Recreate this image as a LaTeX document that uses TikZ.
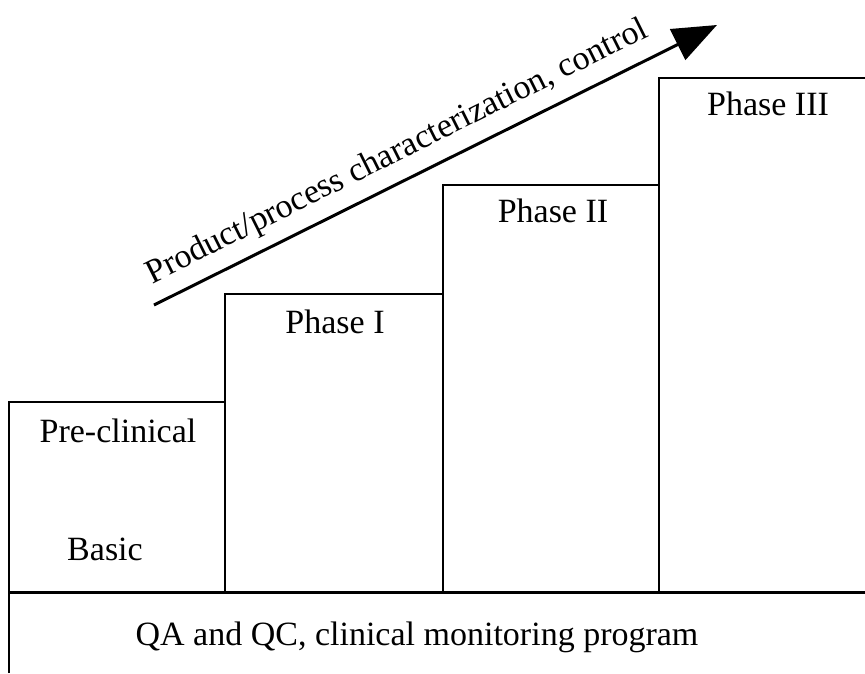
\documentclass[tikz,border=0pt]{standalone}
\usepackage{fontspec}
\setmainfont{Liberation Serif}
\usetikzlibrary{arrows.meta}
\begin{document}
\begin{tikzpicture}[x=1pt,y=-1pt,
  stepline/.style={line width=1.6pt},
  baseline rule/.style={line width=3pt},
  lbl/.style={font=\fontsize{34}{38}\selectfont, anchor=base, inner sep=0pt},
  trend/.style={line width=3pt, -{Triangle[length=44pt,width=34pt]}}]
\useasboundingbox (0,0) rectangle (865,673);
% staircase boxes
\draw[stepline] (9,673) -- (9,402) -- (225,402) -- (225,591);
\draw[stepline] (225,402) -- (225,294) -- (443,294) -- (443,591);
\draw[stepline] (443,294) -- (443,185) -- (659,185) -- (659,591);
\draw[stepline] (659,185) -- (659,78) -- (865,78);
\draw[baseline rule] (9,592) -- (865,592);
% labels
\node[lbl] (pre) at (118,442) {Pre-clinical};
\node[lbl] (basic) at (105,560) {Basic};
\node[lbl] (p1) at (335,333) {Phase I};
\node[lbl] (p2) at (553,222) {Phase II};
\node[lbl] (p3) at (768,115) {Phase III};
\node[lbl] (qa) at (417,645) {QA and QC, clinical monitoring program};
% trend arrow
\coordinate (a0) at (154,305);
\coordinate (a1) at (717,25);
\draw[trend] (a0) -- (a1);
\node[lbl, rotate=26.5] (trendtxt) at (401,160) {Product/process characterization, control};
\end{tikzpicture}
\end{document}
